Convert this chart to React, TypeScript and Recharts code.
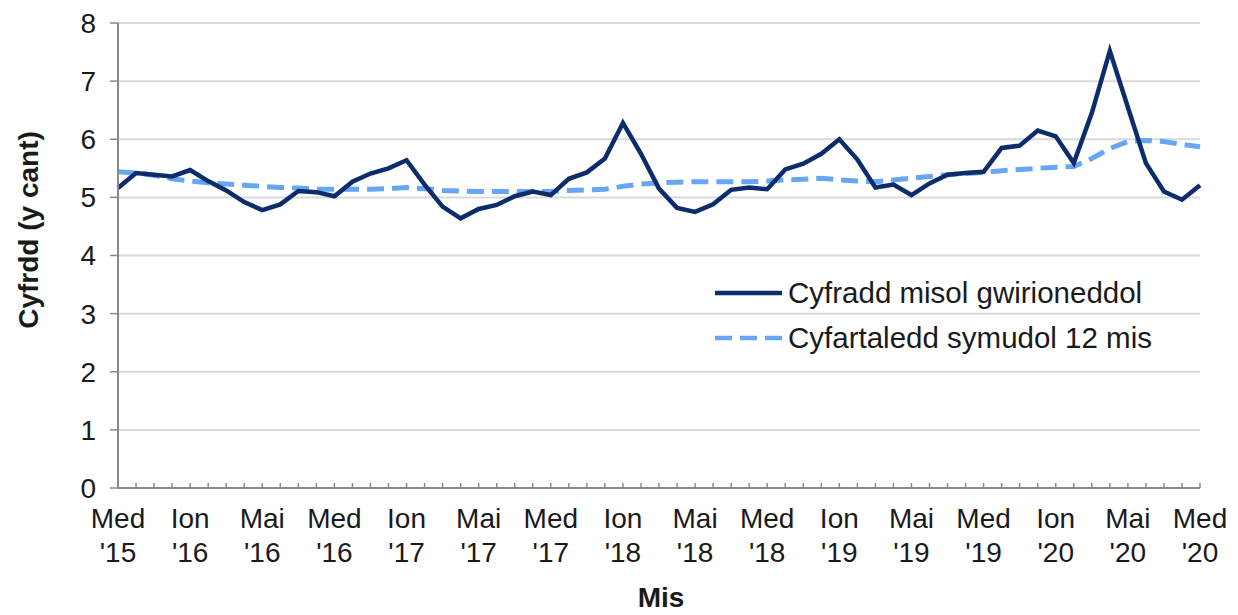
import React from 'react';
import {
  LineChart,
  Line,
  XAxis,
  YAxis,
  CartesianGrid
} from 'recharts';

// Welsh month abbreviations, chart starts at Medi (Sep) 2015
const monthNames = ['Ion', 'Chwe', 'Maw', 'Ebr', 'Mai', 'Meh', 'Gor', 'Awst', 'Med', 'Hyd', 'Tach', 'Rhag'];
const startMonth = 8;
const startYear = 2015;

const monthlyRate = [
  5.16, 5.42, 5.39, 5.36, 5.47, 5.28, 5.12, 4.92, 4.78, 4.88, 5.11, 5.09,
  5.02, 5.27, 5.41, 5.5, 5.64, 5.22, 4.84, 4.64, 4.8, 4.87, 5.02, 5.1,
  5.04, 5.32, 5.43, 5.67, 6.28, 5.75, 5.15, 4.82, 4.75, 4.88, 5.13, 5.17,
  5.14, 5.48, 5.58, 5.75, 6.0, 5.65, 5.17, 5.22, 5.04, 5.24, 5.39, 5.42,
  5.44, 5.85, 5.89, 6.15, 6.05, 5.59, 6.45, 7.52, 6.55, 5.59, 5.1, 4.96,
  5.21
];

const movingAvg = [
  5.44, 5.42, 5.38, 5.32, 5.28, 5.25, 5.23, 5.21, 5.19, 5.17, 5.16, 5.14,
  5.14, 5.14, 5.14, 5.15, 5.17, 5.15, 5.12, 5.11, 5.1, 5.1, 5.1, 5.1,
  5.1, 5.12, 5.13, 5.14, 5.19, 5.23, 5.25, 5.26, 5.27, 5.27, 5.27, 5.27,
  5.28, 5.3, 5.31, 5.33, 5.3, 5.28, 5.27, 5.3, 5.33, 5.36, 5.39, 5.41,
  5.43, 5.46, 5.48, 5.5, 5.52, 5.53, 5.67, 5.84, 5.96, 5.98, 5.96, 5.91,
  5.87
];

const yTicks = [0, 1, 2, 3, 4, 5, 6, 7, 8];

const seriesNames = ['Cyfradd misol gwirioneddol', 'Cyfartaledd symudol 12 mis'];

const DARK = '#0c2d69';
const LIGHT = '#67a6f4';
const TEXT = '#1a1a1a';
const AXIS = '#8a8a8a';
const FONT = 'Liberation Sans, Arial, sans-serif';

const data = monthlyRate.map((v, i) => {
  const m = (startMonth + i) % 12;
  const y = startYear + Math.floor((startMonth + i) / 12);
  return {
    month: `${monthNames[m]} '${String(y).slice(2)}`,
    actual: v,
    avg: movingAvg[i]
  };
});

const MonthTick = (props: any) => {
  const { x, y, index, payload } = props;
  const showLabel = index % 4 === 0;
  const [mon, yr] = String(payload.value).split(' ');
  return (
    <g>
      <line x1={x} y1={y} x2={x} y2={y - 5} stroke={AXIS} strokeWidth={1.5} />
      {showLabel && (
        <text x={x} y={y} textAnchor="middle" fill={TEXT} fontSize={28} fontFamily={FONT}>
          <tspan x={x} dy={40}>{mon}</tspan>
          <tspan x={x} dy={34}>{yr}</tspan>
        </text>
      )}
    </g>
  );
};

const legendItems = [
  { name: seriesNames[0], color: DARK, dash: undefined as string | undefined },
  { name: seriesNames[1], color: LIGHT, dash: '17 8' }
];

const App: React.FC = () => {
  return (
    <div style={{ position: 'relative', width: 1230, height: 607 }}>
      <LineChart width={1230} height={607} data={data} margin={{ top: 15, right: 38, bottom: 37, left: 60 }}>
        <CartesianGrid vertical={false} stroke="#d9d9d9" strokeWidth={2} />
        <XAxis
          dataKey="month"
          interval={0}
          height={90}
          tick={<MonthTick />}
          tickLine={false}
          tickSize={0}
          tickMargin={0}
          axisLine={{ stroke: AXIS, strokeWidth: 2 }}
          label={{
            content: ({ viewBox }: any) => (
              <text
                x={viewBox.x + viewBox.width / 2 + 2}
                y={viewBox.y + 119}
                textAnchor="middle"
                fontSize={28}
                fontWeight="bold"
                fontFamily={FONT}
                fill={TEXT}
              >
                Mis
              </text>
            )
          }}
        />
        <YAxis
          domain={[0, 8]}
          ticks={yTicks}
          width={50}
          interval={0}
          tick={{ fill: TEXT, fontSize: 28, fontFamily: FONT }}
          tickSize={8}
          tickMargin={14}
          tickLine={{ stroke: AXIS, strokeWidth: 1.5 }}
          axisLine={{ stroke: AXIS, strokeWidth: 2 }}
          label={{
            content: () => (
              <text
                x={20}
                y={222}
                transform="rotate(-90, 20, 222)"
                textAnchor="middle"
                dominantBaseline="central"
                fontSize={28}
                fontWeight="bold"
                fontFamily={FONT}
                fill={TEXT}
              >
                Cyfrdd (y cant)
              </text>
            )
          }}
        />
        <Line
          type="linear"
          dataKey="avg"
          name={seriesNames[1]}
          stroke={LIGHT}
          strokeWidth={5}
          strokeDasharray="17 8"
          dot={false}
          activeDot={false}
          isAnimationActive={false}
        />
        <Line
          type="linear"
          dataKey="actual"
          name={seriesNames[0]}
          stroke={DARK}
          strokeWidth={4.5}
          dot={false}
          activeDot={false}
          isAnimationActive={false}
        />
      </LineChart>
      <div
        style={{
          position: 'absolute',
          left: 707,
          top: 262,
          fontFamily: FONT,
          fontSize: 29.5,
          color: TEXT
        }}
      >
        {legendItems.map(item => (
          <div key={item.name} style={{ display: 'flex', alignItems: 'center', height: 45 }}>
            <svg width={73} height={10} style={{ flexShrink: 0 }}>
              <line x1={0} y1={5} x2={67} y2={5} stroke={item.color} strokeWidth={4.5} strokeDasharray={item.dash} />
            </svg>
            <span style={{ whiteSpace: 'nowrap' }}>{item.name}</span>
          </div>
        ))}
      </div>
    </div>
  );
};

export default App;
